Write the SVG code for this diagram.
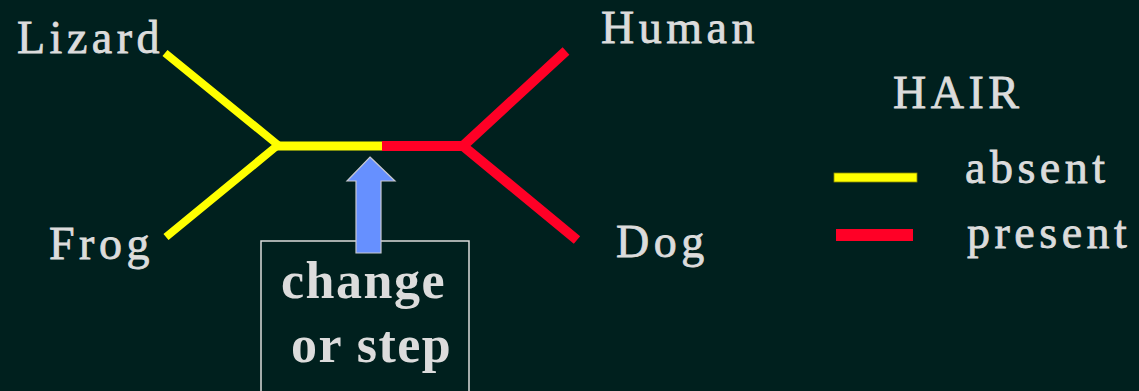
<svg xmlns="http://www.w3.org/2000/svg" width="1139" height="391" viewBox="0 0 1139 391">
  <style>
    .label { font-family: "Liberation Serif", "Times New Roman", serif; font-size: 46px; fill: #dcdcdc; stroke: #dcdcdc; stroke-width: 0.8px; letter-spacing: 4.5px; }
    .boxlabel { font-family: "Liberation Serif", "Times New Roman", serif; font-size: 52px; font-weight: bold; fill: #dcdcdc; letter-spacing: 1.5px; }
    .absent { stroke: #ffff00; fill: none; stroke-linecap: butt; stroke-linejoin: round; }
    .present { stroke: #ff0026; fill: none; stroke-linecap: butt; stroke-linejoin: round; }
  </style>
  <rect x="0" y="0" width="1139" height="391" fill="#00201e"/>

  <!-- tree branches -->
  <g id="connectors">
    <polyline class="absent" stroke-width="8" points="165,53 278,145 166,237"/>
    <line class="absent" stroke-width="9" x1="276" y1="146" x2="382" y2="146"/>
    <line class="present" stroke-width="10" x1="382" y1="146" x2="464" y2="146"/>
    <polyline class="present" stroke-width="10" points="566,51 463,146 577,240"/>
  </g>

  <g id="lizard"><text class="label" x="17" y="53">Lizard</text></g>
  <g id="frog"><text class="label" x="49" y="259">Frog</text></g>
  <g id="human"><text class="label" x="601" y="43">Human</text></g>
  <g id="dog"><text class="label" x="616" y="257">Dog</text></g>

  <!-- change marker: box with upward arrow -->
  <g id="change">
    <path d="M261,391 V241 H469 V391" fill="none" stroke="#dcdcdc" stroke-width="1.5"/>
    <polygon points="370,157 395,181 381,181 381,253 356,253 356,181 347,181" fill="#6690ff" stroke="#c8c8d0" stroke-width="1.2"/>
    <text class="boxlabel" x="281" y="298">change</text>
    <text class="boxlabel" x="291" y="362">or step</text>
  </g>

  <!-- legend -->
  <g id="legend">
    <text class="label" x="893" y="108">HAIR</text>
    <rect x="834" y="173" width="83" height="9" fill="#ffff00" stroke="#8a8a00" stroke-width="0.8"/>
    <text class="label" x="965" y="183">absent</text>
    <rect x="836" y="229" width="77" height="12" fill="#ff0026"/>
    <text class="label" x="967" y="248">present</text>
  </g>
</svg>
